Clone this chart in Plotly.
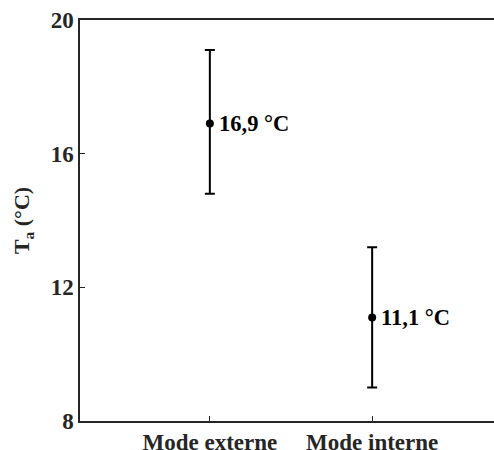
import plotly.graph_objects as go

# data
modes = ["Mode externe", "Mode interne"]
t_mean = [16.9, 11.1]
err_plus = [2.2, 2.1]
err_minus = [2.1, 2.1]
labels = ["16,9 °C", "11,1 °C"]

font_main = "Liberation Serif"

fig = go.Figure()
fig.add_trace(go.Scatter(
    x=modes,
    y=t_mean,
    mode="markers",
    marker=dict(color="black", size=8),
    error_y=dict(
        type="data",
        symmetric=False,
        array=err_plus,
        arrayminus=err_minus,
        color="black",
        thickness=2,
        width=5,
    ),
    showlegend=False,
))

for m, v, lab in zip(modes, t_mean, labels):
    fig.add_annotation(
        x=m, y=v, text="<b>" + lab + "</b>",
        showarrow=False, xanchor="left", yanchor="middle", xshift=7,
        font=dict(family=font_main, size=22.5, color="black"),
    )

# plot area runs a little past the right edge of the window, as in the original
fig.update_layout(
    width=502,
    height=450,
    margin=dict(l=80, r=0, t=20, b=29),
    paper_bgcolor="white",
    plot_bgcolor="white",
    font=dict(family=font_main, size=23, color="#262626"),
)

fig.update_xaxes(
    type="category",
    range=[-0.8, 1.8],
    automargin=False,
    showline=True, linecolor="#262626", linewidth=1.5,
    mirror=True,
    ticks="inside", ticklen=5, tickcolor="#262626", tickwidth=1,
    showgrid=False, zeroline=False,
    tickfont=dict(family=font_main, size=23, color="#262626", weight="bold"),
)
fig.update_yaxes(
    range=[8, 20],
    tickvals=[8, 12, 16, 20],
    automargin=False,
    showline=True, linecolor="#262626", linewidth=1.5,
    mirror=False,
    ticks="inside", ticklen=5, tickcolor="#262626", tickwidth=1,
    showgrid=False, zeroline=False,
    tickfont=dict(family=font_main, size=23, color="#262626", weight="bold"),
    title=dict(text="<b>T<sub>a</sub> (°C)</b>",
               font=dict(family=font_main, size=22, color="#262626")),
)

# drop the browser's default 8px body margin so the figure fills the window
fig.write_html("out.html",
               config={"displayModeBar": False},
               post_script="document.body.style.margin='0';document.body.style.overflow='hidden';")
